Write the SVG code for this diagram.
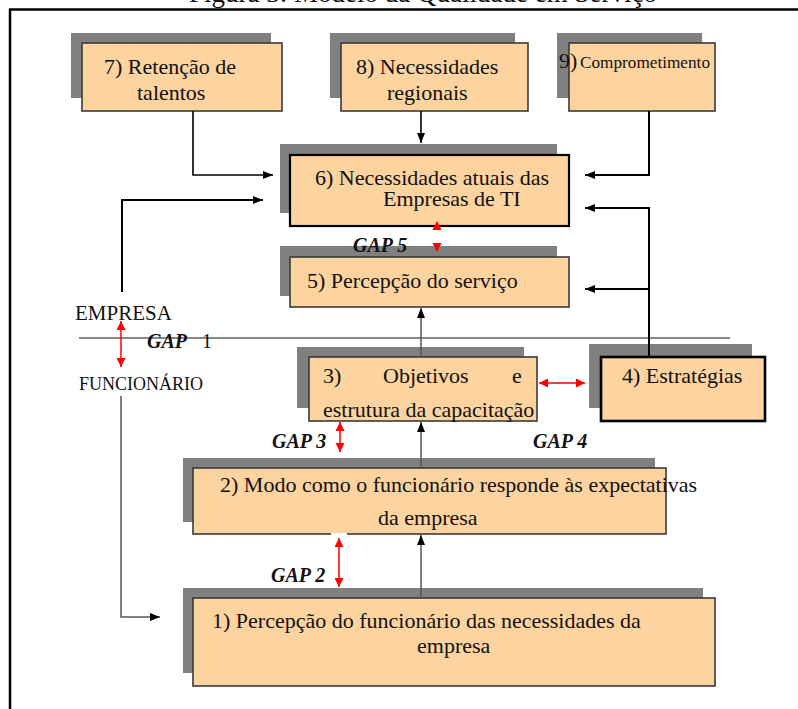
<svg xmlns="http://www.w3.org/2000/svg" width="798" height="709" viewBox="0 0 798 709">
<style>
svg text{font-family:"Liberation Serif","Times New Roman",serif !important;fill:#111;}
.tx{font-size:22px;}
.gap{font-size:20px;font-weight:bold;font-style:italic;}
.sh{fill:#808080;}
.bx{fill:#FDD3A0;stroke:#3a3a3a;stroke-width:1.6;}
.bxk{fill:#FDD3A0;stroke:#000;stroke-width:2.2;}
.c{fill:none;stroke:#000;stroke-width:1.6;}
.cg{fill:none;stroke:#555;stroke-width:1.5;}
.r{fill:none;stroke:#f00;stroke-width:1.5;}
</style>
<defs>
<marker id="ah" viewBox="0 0 10 8" refX="10" refY="4" markerWidth="10" markerHeight="8" orient="auto" markerUnits="userSpaceOnUse"><path d="M0,0 L10,4 L0,8 z" fill="#000"/></marker>
<marker id="rh" viewBox="0 0 9 9" refX="9" refY="4.5" markerWidth="9" markerHeight="9" orient="auto-start-reverse" markerUnits="userSpaceOnUse"><path d="M0,0 L9,4.5 L0,9 z" fill="#f00"/></marker>
</defs>
<rect width="798" height="709" fill="#fff"/>
<text x="189" y="1.5" font-family="Liberation Serif" style="font-size:27px">Figura 3: Modelo da Qualidade em Serviço</text>
<g id="frame" fill="none" stroke="#000" stroke-width="2.5">
<line x1="9" y1="9.5" x2="798" y2="9.5"/>
<line x1="10" y1="9" x2="10" y2="709"/>
</g>
<line x1="79" y1="338" x2="730" y2="338" stroke="#888" stroke-width="2"/>

<g id="box-retencao" font-family="Liberation Serif"><rect class="sh" x="71" y="33" width="200" height="65"/><rect class="bx" x="82" y="43" width="200" height="68"/>
<text class="tx" font-family="Liberation Serif" x="104" y="74">7) Retenção de</text><text class="tx" font-family="Liberation Serif" x="137" y="100">talentos</text></g>
<g id="box-regionais" font-family="Liberation Serif"><rect class="sh" x="330" y="33" width="185" height="65"/><rect class="bx" x="341" y="43" width="187" height="68"/>
<text class="tx" font-family="Liberation Serif" x="356" y="74">8) Necessidades</text><text class="tx" font-family="Liberation Serif" x="387" y="100">regionais</text></g>
<g id="box-compromisso" font-family="Liberation Serif"><rect class="sh" x="557" y="33" width="145" height="65"/><rect class="bx" x="569" y="43" width="146" height="68"/>
<text class="tx" font-family="Liberation Serif" x="559" y="68">9)</text><text x="580" y="68" font-family="Liberation Serif" font-size="16" textLength="130" lengthAdjust="spacingAndGlyphs">Comprometimento</text></g>
<g id="box-necessidades" font-family="Liberation Serif"><rect class="sh" x="280" y="144" width="277" height="69"/><rect class="bxk" x="290" y="155" width="279" height="71"/>
<text class="tx" font-family="Liberation Serif" x="315" y="185">6) Necessidades atuais das</text><text class="tx" font-family="Liberation Serif" x="383" y="206">Empresas de TI</text></g>
<g id="box-percepcao-servico" font-family="Liberation Serif"><rect class="sh" x="280" y="246" width="277" height="50"/><rect class="bx" x="290" y="257" width="279" height="50"/>
<text class="tx" font-family="Liberation Serif" x="307" y="288">5) Percepção do serviço</text></g>
<g id="box-objetivos" font-family="Liberation Serif"><rect class="sh" x="297" y="347" width="227" height="61"/><rect class="bx" x="309" y="357" width="228" height="64"/>
<text class="tx" font-family="Liberation Serif" y="383"><tspan x="323">3)</tspan><tspan x="383">Objetivos</tspan><tspan x="512">e</tspan></text>
<text class="tx" font-family="Liberation Serif" x="323" y="417">estrutura da capacitação</text></g>
<g id="box-estrategias" font-family="Liberation Serif"><rect class="sh" x="589" y="344" width="163" height="64"/><rect class="bx" x="601" y="357" width="164" height="64" style="stroke:#000;stroke-width:2.6"/>
<text class="tx" font-family="Liberation Serif" x="622" y="383">4) Estratégias</text></g>
<g id="box-modo" font-family="Liberation Serif"><rect class="sh" x="183" y="458" width="472" height="64"/><rect class="bx" x="193" y="468" width="473" height="66"/>
<text class="tx" font-family="Liberation Serif" x="220" y="492">2) Modo como o funcionário responde às expectativas</text><text class="tx" font-family="Liberation Serif" x="378" y="525">da empresa</text></g>
<g id="box-percepcao-funcionario" font-family="Liberation Serif"><rect class="sh" x="183" y="588" width="520" height="85"/><rect class="bx" x="193" y="598" width="522" height="88"/>
<text class="tx" font-family="Liberation Serif" x="212" y="628">1) Percepção do funcionário das necessidades da</text><text class="tx" font-family="Liberation Serif" x="417" y="653">empresa</text></g>

<g id="labels" font-family="Liberation Serif">
<text x="75" y="320" font-size="21">EMPRESA</text>
<text x="79" y="390" font-size="18">FUNCIONÁRIO</text>
<text class="gap" x="147" y="348">GAP</text><text x="202" y="348" font-size="20">1</text>
<text class="gap" x="353" y="252">GAP 5</text>
<text class="gap" x="272" y="448">GAP 3</text>
<text class="gap" x="533" y="448">GAP 4</text>
<text class="gap" x="271" y="582">GAP 2</text>
</g>

<g id="connectors">
<polyline class="c" points="193,111 193,175 273,175" marker-end="url(#ah)"/>
<line class="c" x1="421" y1="111" x2="421" y2="143" marker-end="url(#ah)"/>
<polyline class="c" style="stroke-width:2" points="649,111 649,175 585,175" marker-end="url(#ah)"/>
<polyline class="c" style="stroke-width:2" points="649,357 649,208 585,208" marker-end="url(#ah)"/>
<line class="c" style="stroke-width:2" x1="649" y1="289" x2="585" y2="289" marker-end="url(#ah)"/>
<polyline class="c" style="stroke-width:2" points="122,292 122,200 263,200" marker-end="url(#ah)"/>
<polyline class="cg" points="121,396 121,617 160,617" marker-end="url(#ah)"/>
<line class="cg" x1="421" y1="357" x2="421" y2="308" marker-end="url(#ah)"/>
<line class="cg" x1="421" y1="468" x2="421" y2="422" marker-end="url(#ah)"/>
<line class="cg" x1="421" y1="598" x2="421" y2="535" marker-end="url(#ah)"/>
<path d="M432.5,230 L437,221 L441.5,230 z M432.5,243 L437,252 L441.5,243 z" fill="#f00"/>
<line class="r" x1="121" y1="321" x2="121" y2="367" marker-start="url(#rh)" marker-end="url(#rh)"/>
<line class="r" x1="340" y1="422" x2="340" y2="452" marker-start="url(#rh)" marker-end="url(#rh)"/>
<line class="r" x1="539" y1="383" x2="585" y2="383" marker-start="url(#rh)" marker-end="url(#rh)"/>
<rect x="331" y="533" width="16" height="5" fill="#fff"/>
<line class="r" x1="339" y1="538" x2="339" y2="587" marker-start="url(#rh)" marker-end="url(#rh)"/>
</g>
</svg>
